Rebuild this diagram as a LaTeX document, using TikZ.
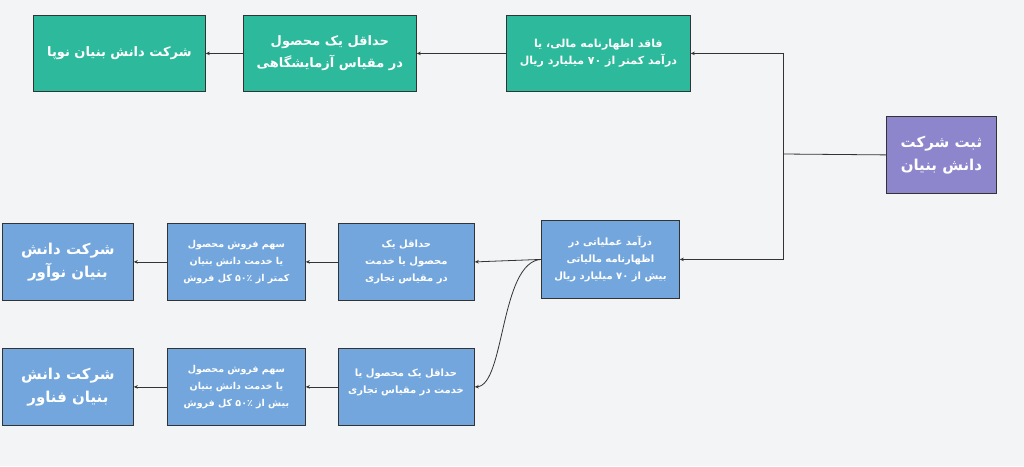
\documentclass[tikz,border=0pt]{standalone}
\usepackage{fontspec}
\usetikzlibrary{arrows.meta}
\TeXXeTstate=1
\newfontfamily\fa[Script=Arabic]{DejaVu Sans}
\newcommand{\RL}[1]{\beginR #1\endR}
\definecolor{bg}{HTML}{F3F4F6}
\definecolor{teal}{HTML}{2DB99B}
\definecolor{blu}{HTML}{72A6DD}
\definecolor{pur}{HTML}{8E86CC}
\definecolor{ln}{HTML}{333333}
\begin{document}
\begin{tikzpicture}[x=1pt,y=-1pt,
 bx/.style={draw=ln,line width=0.8pt,text=white,align=center,font=\fa\bfseries\fontsize{11}{17}\selectfont,inner sep=0pt,anchor=north west},
 big/.style={font=\fa\bfseries\fontsize{15}{23}\selectfont},
 ar/.style={draw=ln,line width=0.8pt,-{Stealth[length=4pt,width=3.5pt]}}]
\fill[bg] (0,0) rectangle (1024,466);
\useasboundingbox (0,0) rectangle (1024,466);
\node[bx,fill=pur,big,minimum width=110pt,minimum height=77pt] (root) at (886,116) {\RL{ثبت شرکت}\\\RL{دانش بنیان}};
\node[bx,fill=teal,minimum width=184pt,minimum height=76pt] (t1) at (506,15) {\RL{فاقد اظهارنامه مالی، یا}\\\RL{درآمد کمتر از ۷۰ میلیارد ریال}};
\node[bx,fill=teal,font=\fa\bfseries\fontsize{13}{22}\selectfont,minimum width=173pt,minimum height=76pt] (t2) at (243,15) {\RL{حداقل یک محصول}\\\RL{در مقیاس آزمایشگاهی}};
\node[bx,fill=teal,font=\fa\bfseries\fontsize{13}{22}\selectfont,minimum width=172pt,minimum height=76pt] (t3) at (33,15) {\RL{شرکت دانش بنیان نوپا}};
\node[bx,fill=blu,font=\fa\bfseries\fontsize{10}{17}\selectfont,minimum width=138pt,minimum height=78pt] (m1) at (541,220) {\RL{درآمد عملیاتی در}\\\RL{اظهارنامه مالیاتی}\\\RL{بیش از ۷۰ میلیارد ریال}};
\node[bx,fill=blu,font=\fa\bfseries\fontsize{10}{17}\selectfont,minimum width=136pt,minimum height=77pt] (m2) at (338,223) {\RL{حداقل یک}\\\RL{محصول یا خدمت}\\\RL{در مقیاس تجاری}};
\node[bx,fill=blu,font=\fa\bfseries\fontsize{9.5}{17}\selectfont,minimum width=138pt,minimum height=77pt] (m3) at (167,223) {\RL{سهم فروش محصول}\\\RL{یا خدمت دانش بنیان}\\\RL{کمتر از ۵۰٪ کل فروش}};
\node[bx,fill=blu,big,minimum width=131pt,minimum height=77pt] (m4) at (2,223) {\RL{شرکت دانش}\\\RL{بنیان نوآور}};
\node[bx,fill=blu,minimum width=136pt,minimum height=77pt] (l2) at (338,348) {};
\node[text=white,align=center,font=\fa\bfseries\fontsize{10}{17}\selectfont] (l2t) at (406,382) {\RL{حداقل یک محصول یا}\\\RL{خدمت در مقیاس تجاری}};
\node[bx,fill=blu,font=\fa\bfseries\fontsize{9.5}{17}\selectfont,minimum width=138pt,minimum height=77pt] (l3) at (167,348) {\RL{سهم فروش محصول}\\\RL{یا خدمت دانش بنیان}\\\RL{بیش از ۵۰٪ کل فروش}};
\node[bx,fill=blu,big,minimum width=131pt,minimum height=77pt] (l4) at (2,348) {\RL{شرکت دانش}\\\RL{بنیان فناور}};
\coordinate (j) at (783,154);
\draw[draw=ln,line width=0.8pt] (root.west) -- (j);
\draw[ar] (j) |- (t1.east);
\draw[ar] (j) |- (m1.east);
\draw[ar] (t1.west) -- (t2.east);
\draw[ar] (t2.west) -- (t3.east);
\draw[ar] (m1.west) -- (m2.east);
\draw[ar] (m1.west) .. controls (500,262) and (505,385) .. (l2.east);
\draw[ar] (m2.west) -- (m3.east);
\draw[ar] (m3.west) -- (m4.east);
\draw[ar] (l2.west) -- (l3.east);
\draw[ar] (l3.west) -- (l4.east);
\end{tikzpicture}
\end{document}
